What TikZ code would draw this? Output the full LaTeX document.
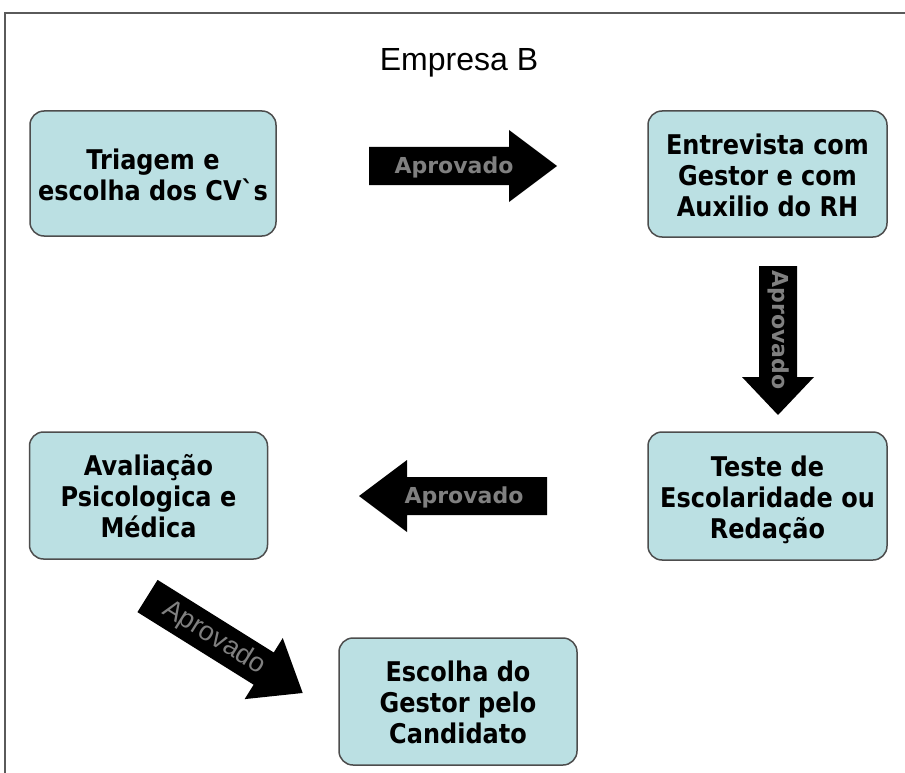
\documentclass[tikz,border=0pt]{standalone}
\usepackage{fontspec}
\usepackage{graphicx}
\setmainfont{DejaVu Sans}
\newfontfamily\titlefont{Liberation Sans}
\definecolor{boxfill}{RGB}{187,224,227}
\definecolor{boxline}{RGB}{77,77,77}
\definecolor{arrtext}{RGB}{128,128,128}
\definecolor{frameline}{RGB}{90,90,90}
\tikzset{
  stepbox/.style={draw=boxline, line width=1.5pt, fill=boxfill, rounded corners=14pt,
    align=center, inner sep=0pt, font=\bfseries\fontsize{24}{27.5}\selectfont},
  arrlabel/.style={text=arrtext, inner sep=0pt, font=\bfseries\fontsize{22}{25}\selectfont},
  arrlabelthin/.style={text=arrtext, inner sep=0pt, font=\titlefont\fontsize{27}{30}\selectfont},
  blockfill/.style={fill=black}
}
\newcommand{\blockarrowshape}[2]{%
  \fill[blockfill] (0,-19) -- ({#1-#2},-19) -- ({#1-#2},-36) -- (#1,0) -- ({#1-#2},36) -- ({#1-#2},19) -- (0,19) -- cycle;}
\newcommand{\tallstack}[1]{\raisebox{-5pt}[\height][\depth]{\scalebox{1}[1.13]{\begin{tabular}{@{}c@{}}#1\end{tabular}}}}
\begin{document}
\begin{tikzpicture}[x=1pt,y=-1pt]
\useasboundingbox (0,0) rectangle (905,773);
\fill[white] (0,0) rectangle (905,773);
\draw[frameline, line width=2pt] (5,773) -- (5,13) -- (905,13);

\node[font=\titlefont\fontsize{32}{36}\selectfont] (title) at (459,63) {Empresa B};

\node[stepbox, minimum width=246pt, minimum height=125pt] (b1) at (153,173.5) {\tallstack{Triagem e\\escolha dos CV\textasciigrave s}};
\node[stepbox, minimum width=239pt, minimum height=126pt] (b2) at (767.5,174) {\tallstack{Entrevista com\\Gestor e com\\Auxilio do RH}};
\node[stepbox, minimum width=239pt, minimum height=128pt] (b3) at (767.5,496) {\tallstack{Teste de\\Escolaridade ou\\Redação}};
\node[stepbox, minimum width=238pt, minimum height=127pt] (b4) at (148.5,495.5) {\tallstack{Avaliação\\Psicologica e\\Médica}};
\node[stepbox, minimum width=238pt, minimum height=127pt] (b5) at (458,701.5) {\tallstack{Escolha do\\Gestor pelo\\Candidato}};

% block arrows
\begin{scope}[shift={(369,166)}]
  \blockarrowshape{188}{48}
\end{scope}
\node[arrlabel] (a1) at (454,167) {Aprovado};

\begin{scope}[shift={(778,266)}, rotate=-90]
  \blockarrowshape{149}{38}
\end{scope}
\node[arrlabel, rotate=-90] (a2) at (779,330) {Aprovado};

\begin{scope}[shift={(547,496)}, rotate=180]
  \blockarrowshape{188}{48}
\end{scope}
\node[arrlabel] (a3) at (464,497) {Aprovado};

\begin{scope}[shift={(147.5,596)}, rotate=-32]
  \blockarrowshape{183}{46}
\end{scope}
\node[arrlabelthin, rotate=-32] (a4) at (214,638) {Aprovado};
\end{tikzpicture}
\end{document}
